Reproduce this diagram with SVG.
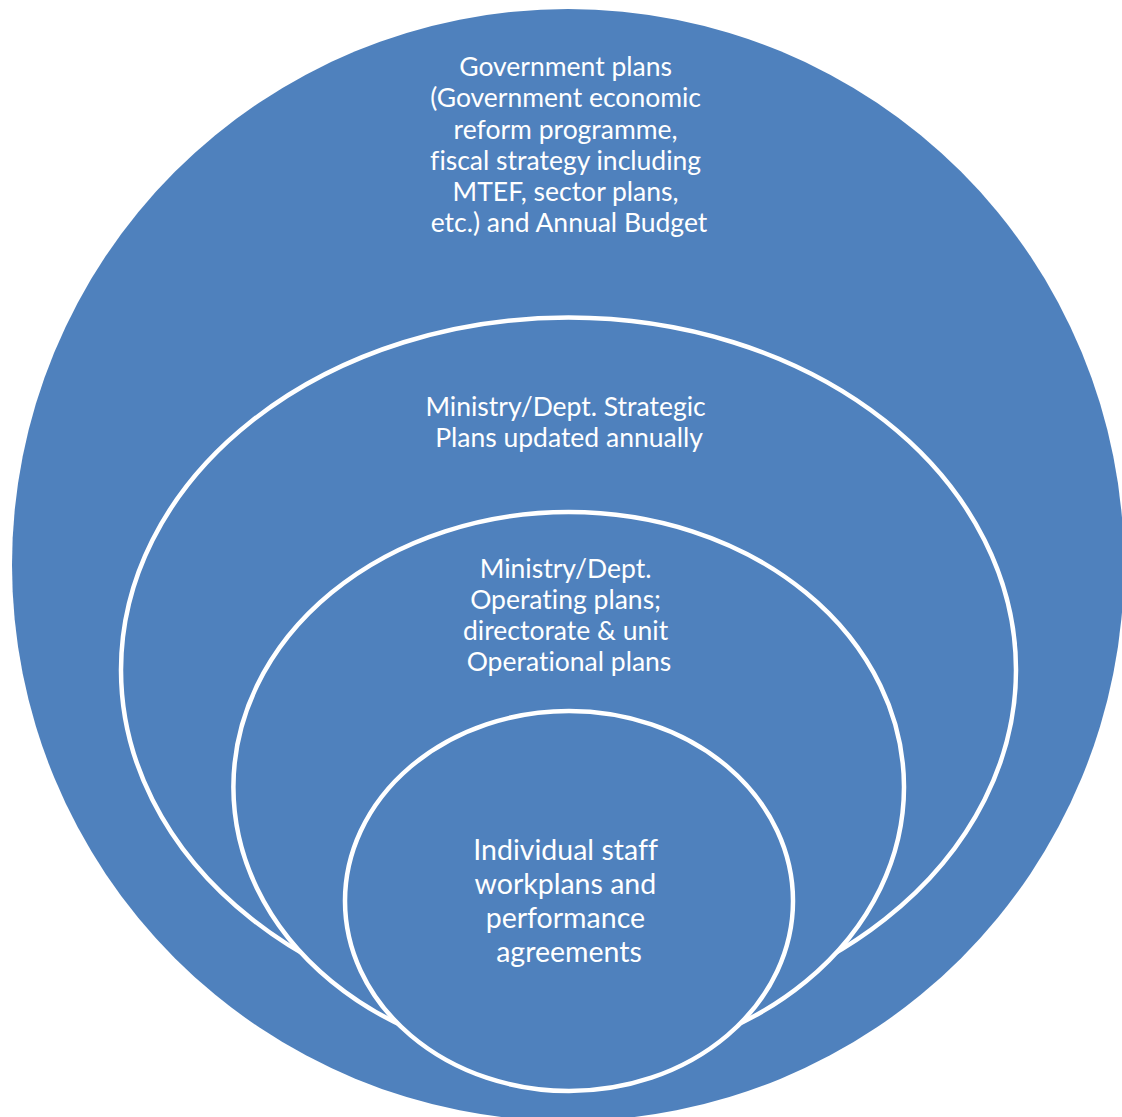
<svg xmlns="http://www.w3.org/2000/svg" width="1122" height="1117" viewBox="0 0 1122 1117">
  <style>
    .ring { fill: #4f81bd; stroke: #ffffff; stroke-width: 4.5; }
    .outer { fill: #4f81bd; }
    .lbl { fill: #ffffff; font-family: Lato, "Open Sans", "Liberation Sans", sans-serif; font-size: 26.5px; text-anchor: middle; font-variant-ligatures: none; }
    .lbl-big { font-size: 28.5px; }
  </style>
  <rect width="1122" height="1117" fill="#ffffff"/>

  <g id="government-plans">
    <circle class="outer" cx="568" cy="565" r="556"/>
    <text class="lbl">
      <tspan x="569" y="76">Government plans</tspan>
      <tspan x="569" y="107">(Government economic</tspan>
      <tspan x="569" y="139">reform programme,</tspan>
      <tspan x="569" y="170">fiscal strategy including</tspan>
      <tspan x="569" y="201">MTEF, sector plans,</tspan>
      <tspan x="569" y="232">etc.) and Annual Budget</tspan>
    </text>
  </g>

  <g id="strategic-plans">
    <ellipse class="ring" cx="568.5" cy="670" rx="447.5" ry="352.5"/>
    <text class="lbl">
      <tspan x="569" y="416">Ministry/Dept. Strategic</tspan>
      <tspan x="569" y="447">Plans updated annually</tspan>
    </text>
  </g>

  <g id="operating-plans">
    <ellipse class="ring" cx="568.7" cy="787" rx="335.3" ry="275"/>
    <text class="lbl">
      <tspan x="569" y="578">Ministry/Dept.</tspan>
      <tspan x="569" y="609">Operating plans;</tspan>
      <tspan x="569" y="640">directorate &amp; unit</tspan>
      <tspan x="569" y="671">Operational plans</tspan>
    </text>
  </g>

  <g id="individual-workplans">
    <ellipse class="ring" cx="569" cy="901" rx="224" ry="190"/>
    <text class="lbl lbl-big">
      <tspan x="569" y="860">Individual staff</tspan>
      <tspan x="569" y="894">workplans and</tspan>
      <tspan x="569" y="928">performance</tspan>
      <tspan x="569" y="962">agreements</tspan>
    </text>
  </g>

  <g id="connectors"/>
</svg>
